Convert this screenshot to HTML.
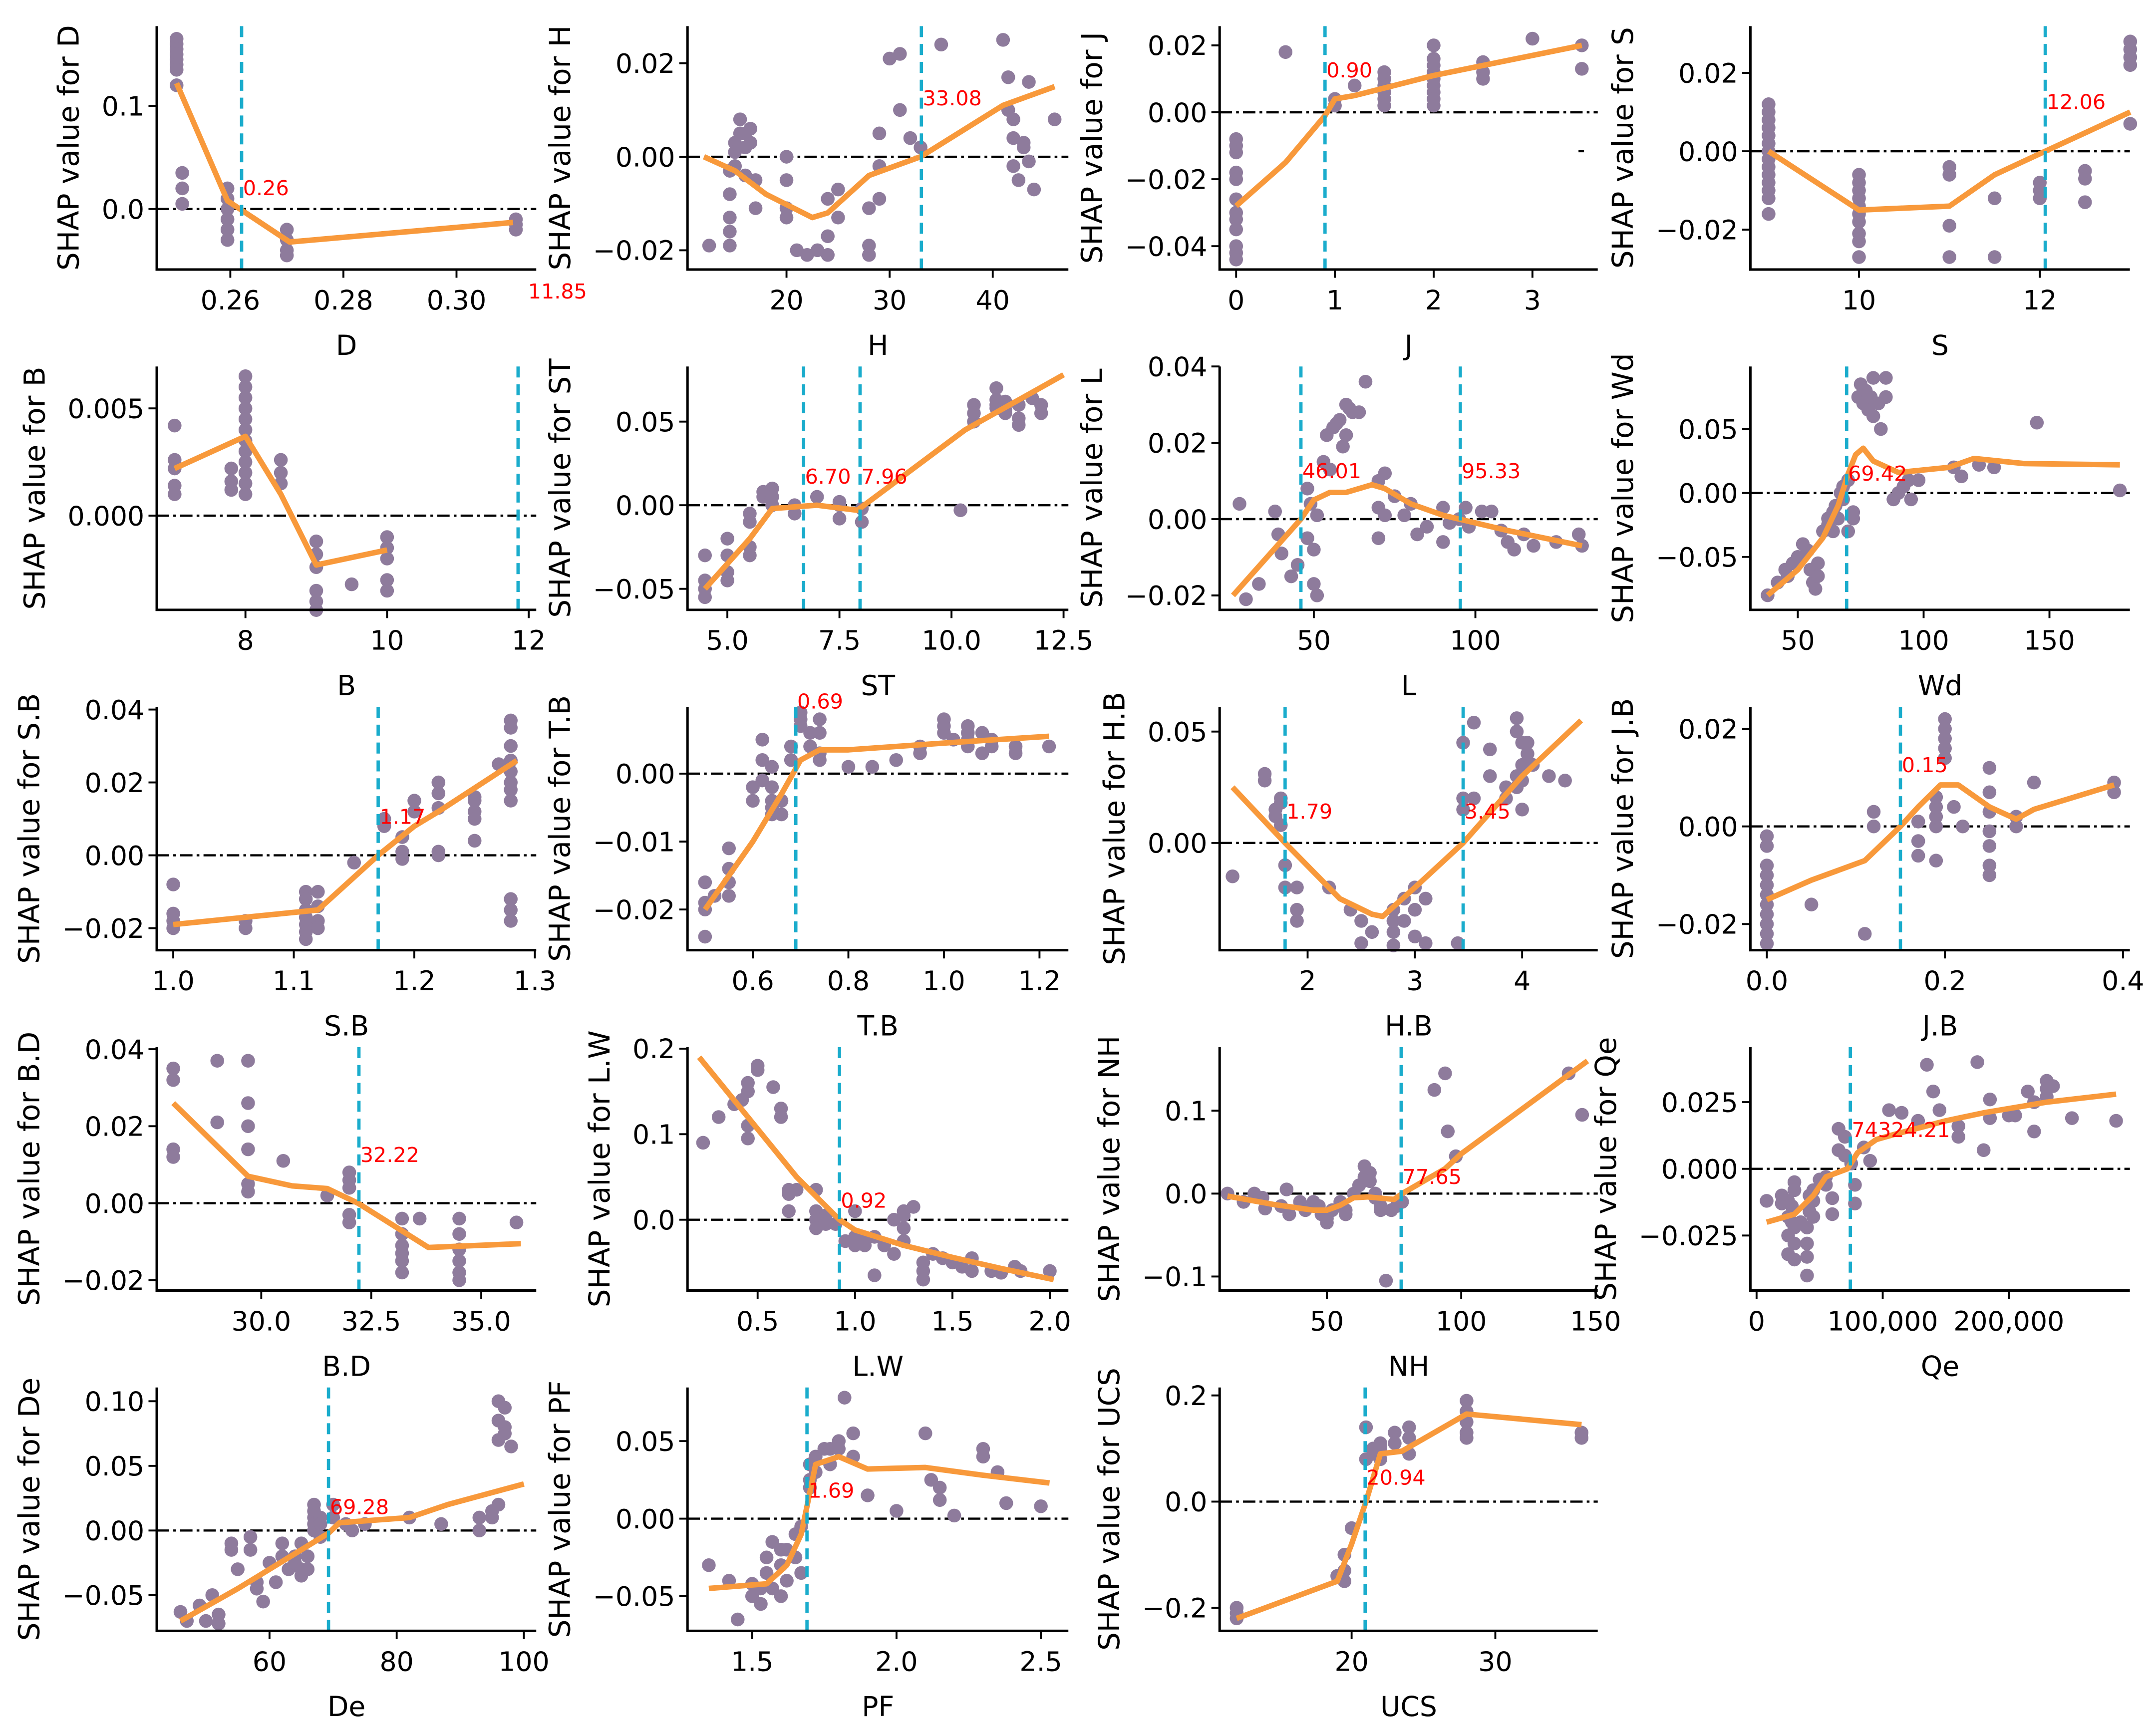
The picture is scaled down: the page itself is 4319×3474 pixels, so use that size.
<!DOCTYPE html>
<html><head><meta charset="utf-8"><style>
html,body{margin:0;padding:0;background:#fff;}
svg{display:block;}
text{font-family:"DejaVu Sans","Liberation Sans",sans-serif;}
</style></head><body>
<svg id="chart" xmlns="http://www.w3.org/2000/svg" width="4319" height="3474" viewBox="0 0 1568 1261" preserveAspectRatio="none"></svg>
<script>
// ===== data arrays (x values, SHAP values, trend lines) =====
const D_x=[0.2505,0.2505,0.2505,0.2505,0.2505,0.2505,0.2505,0.2505,0.2515,0.2515,0.2515,0.2595,0.2595,0.2595,0.2595,0.2595,0.2595,0.27,0.27,0.27,0.27,0.3105,0.3105,0.3105];
const D_y=[0.165,0.16,0.155,0.15,0.145,0.14,0.135,0.12,0.035,0.02,0.005,0.02,0.01,0.0,-0.01,-0.02,-0.03,-0.02,-0.03,-0.04,-0.045,-0.01,-0.015,-0.02];
const D_lx=[0.2505,0.2595,0.2705,0.31];
const D_ly=[0.122,0.008,-0.032,-0.013];

const H_x=[12.5,14.5,14.5,14.5,14.5,14.5,15,15,15,15.5,15.5,16,16,16,16.5,16.5,17,17,20,20,20,20,21,22,23,24,24,24,25,25,28,28,28,29,29,29,30,31,31,32,33,35,41,41.5,41.5,42,42,43,43,42,42.5,43.5,43.5,44,46];
const H_y=[-0.019,-0.003,-0.008,-0.013,-0.016,-0.019,0.003,0.001,-0.002,0.005,0.008,0.005,0.002,-0.004,0.006,0.003,-0.005,-0.011,0,-0.005,-0.011,-0.013,-0.02,-0.021,-0.02,-0.021,-0.017,-0.009,-0.007,-0.013,-0.019,-0.021,-0.011,-0.009,0.005,-0.002,0.021,0.022,0.01,0.004,0.002,0.024,0.025,0.017,0.01,0.008,0.004,0.003,0.002,-0.002,-0.005,0.016,-0.001,-0.007,0.008];
const H_lx=[12,15,18,22.5,24,28,33,41,46];
const H_ly=[0,-0.003,-0.008,-0.013,-0.012,-0.004,0,0.011,0.015];

const J_x=[0,0,0,0,0,0,0,0,0,0,0,0,0.5,1,1,1.2,1.5,1.5,1.5,1.5,1.5,1.5,2,2,2,2,2,2,2,2,2,2.5,2.5,2.5,3,3.5,3.5];
const J_y=[-0.008,-0.01,-0.012,-0.018,-0.02,-0.026,-0.03,-0.032,-0.035,-0.04,-0.042,-0.044,0.018,0.004,0.002,0.008,0.012,0.01,0.008,0.006,0.004,0.002,0.02,0.016,0.014,0.012,0.01,0.008,0.006,0.004,0.002,0.015,0.012,0.01,0.022,0.02,0.013];
const J_lx=[0,0.5,0.9,1,1.2,2,2.5,3.5];
const J_ly=[-0.028,-0.015,-0.001,0.004,0.005,0.011,0.014,0.02];

const S_x=[9,9,9,9,9,9,9,9,9,9,9,9,9,9,10,10,10,10,10,10,10,10,10,10,11,11,11,11,11.5,11.5,12,12,12,12.5,12.5,12.5,13,13,13,13,13];
const S_y=[0.012,0.01,0.008,0.006,0.004,0.002,0,-0.002,-0.004,-0.006,-0.008,-0.01,-0.012,-0.016,-0.006,-0.008,-0.01,-0.012,-0.014,-0.016,-0.018,-0.021,-0.023,-0.027,-0.004,-0.006,-0.019,-0.027,-0.012,-0.027,-0.008,-0.01,-0.012,-0.005,-0.007,-0.013,0.028,0.026,0.024,0.022,0.007];
const S_lx=[9,10,11,11.5,12.06,13];
const S_ly=[0,-0.015,-0.014,-0.006,0,0.01];

const B_x=[7,7,7,7,7,7.8,7.8,7.8,8,8,8,8,8,8,8,8,8,8,8,8,8.5,8.5,8.5,9,9,9,9,9,9,9.5,10,10,10,10,10];
const B_y=[0.0042,0.0026,0.0022,0.0014,0.001,0.0022,0.0016,0.0012,0.0065,0.006,0.0055,0.005,0.0045,0.004,0.0035,0.003,0.0025,0.002,0.0015,0.001,0.0026,0.002,0.0015,-0.0012,-0.0018,-0.0024,-0.0035,-0.004,-0.0044,-0.0032,-0.001,-0.0015,-0.002,-0.003,-0.0035];
const B_lx=[7,8,8.5,9,10];
const B_ly=[0.0022,0.0037,0.001,-0.0023,-0.0016];

const ST_x=[4.5,4.5,4.5,4.5,5,5,5,5,5.5,5.5,5.5,5.5,5.8,5.8,6,6,6,6.5,6.5,7,7.5,7.5,7.5,8,8,10.2,10.5,10.5,10.5,11,11,11,11,11.2,11.2,11.2,11.5,11.5,11.5,12,12,11.8];
const ST_y=[-0.03,-0.045,-0.05,-0.055,-0.02,-0.03,-0.04,-0.045,-0.005,-0.01,-0.025,-0.03,0.005,0.008,0.01,0.005,0,-0.005,0,0.005,0.002,-0.008,0,-0.002,-0.01,-0.003,0.06,0.055,0.05,0.07,0.063,0.058,0.06,0.062,0.057,0.055,0.06,0.052,0.048,0.055,0.06,0.064];
const ST_lx=[4.5,5.5,6,7,7.9,10.3,12.5];
const ST_ly=[-0.05,-0.02,-0.002,0,-0.003,0.045,0.078];

const L_x=[27,29,33,38,39,40,43,45,48,48,49,50,50,51,51,53,54,55,56,57,58,59,60,60,61,62,64,66,70,70,70,72,72,75,78,80,82,85,90,90,92,95,97,98,102,105,108,110,112,115,118,125,132,133];
const L_y=[0.004,-0.021,-0.017,0.002,-0.004,-0.009,-0.015,-0.012,-0.005,0.008,0.004,-0.008,-0.017,-0.02,0.001,0.015,0.022,0.013,0.024,0.025,0.026,0.019,0.022,0.03,0.029,0.028,0.028,0.036,0.01,0.003,-0.005,0.001,0.012,0.006,0.001,0.004,-0.004,-0.002,0.003,-0.006,-0.001,0,0.003,-0.002,0.002,0.002,-0.003,-0.006,-0.008,-0.004,-0.007,-0.006,-0.004,-0.007];
const L_lx=[25,46,50,55,60,68,72,80,90,100,110,133];
const L_ly=[-0.02,0,0.005,0.007,0.007,0.009,0.008,0.004,0.001,-0.001,-0.003,-0.007];

const Wd_x=[38,42,45,46,48,50,52,54,55,56,57,58,58,60,62,62,64,64,65,66,67,68,68,70,70,72,72,74,75,76,77,78,79,80,80,82,83,85,85,88,90,92,94,95,98,112,115,122,128,145,178];
const Wd_y=[-0.08,-0.07,-0.06,-0.065,-0.055,-0.05,-0.04,-0.045,-0.06,-0.07,-0.075,-0.065,-0.055,-0.03,-0.02,-0.025,-0.015,-0.03,-0.01,-0.02,0,-0.005,0.005,0.01,-0.03,-0.015,-0.02,0.075,0.085,0.07,0.08,0.065,0.075,0.06,0.09,0.07,0.05,0.09,0.075,-0.005,0,0.005,0.01,-0.005,0.01,0.02,0.013,0.022,0.02,0.055,0.002];
const Wd_lx=[38,50,60,66,70,73,76,80,90,100,110,120,140,178];
const Wd_ly=[-0.08,-0.06,-0.035,-0.01,0.015,0.03,0.035,0.025,0.016,0.018,0.02,0.027,0.023,0.022];

const SB_x=[1,1,1,1,1.06,1.06,1.11,1.11,1.11,1.11,1.11,1.11,1.11,1.12,1.12,1.12,1.12,1.15,1.175,1.175,1.19,1.19,1.19,1.2,1.2,1.22,1.22,1.22,1.22,1.22,1.25,1.25,1.25,1.25,1.25,1.27,1.28,1.28,1.28,1.28,1.28,1.28,1.28,1.28,1.28,1.28,1.28];
const SB_y=[-0.008,-0.016,-0.018,-0.02,-0.018,-0.02,-0.01,-0.012,-0.015,-0.017,-0.019,-0.021,-0.023,-0.01,-0.014,-0.018,-0.02,-0.002,0.01,0.008,0.005,0.001,-0.001,0.015,0.012,0.02,0.017,0.013,0.001,0,0.016,0.015,0.012,0.01,0.004,0.025,0.037,0.035,0.03,0.026,0.023,0.02,0.018,0.015,-0.012,-0.015,-0.018];
const SB_lx=[1,1.06,1.12,1.17,1.2,1.22,1.285];
const SB_ly=[-0.019,-0.017,-0.015,0,0.008,0.012,0.026];

const TB_x=[0.5,0.5,0.5,0.5,0.52,0.55,0.55,0.55,0.55,0.6,0.6,0.62,0.62,0.62,0.64,0.64,0.64,0.64,0.64,0.66,0.66,0.68,0.68,0.7,0.7,0.7,0.72,0.72,0.74,0.74,0.74,0.74,0.8,0.85,0.9,0.95,0.95,1,1,1,1.02,1.05,1.05,1.05,1.05,1.08,1.08,1.1,1.1,1.15,1.15,1.22];
const TB_y=[-0.016,-0.019,-0.02,-0.024,-0.018,-0.011,-0.014,-0.016,-0.018,-0.002,-0.004,0.002,0.005,-0.001,0.001,-0.002,-0.004,-0.005,-0.006,-0.004,-0.006,0.002,0.004,0.007,0.009,0.008,0.004,0.006,0.006,0.003,0.002,0.008,0.001,0.001,0.002,0.004,0.003,0.008,0.007,0.006,0.005,0.007,0.004,0.006,0.005,0.006,0.003,0.005,0.004,0.004,0.003,0.004];
const TB_lx=[0.5,0.6,0.66,0.7,0.74,0.8,0.9,1,1.22];
const TB_ly=[-0.02,-0.01,-0.003,0.002,0.0035,0.0035,0.004,0.0045,0.0055];

const HB_x=[1.3,1.6,1.6,1.7,1.7,1.75,1.75,1.75,1.79,1.79,1.9,1.9,1.9,2.2,2.4,2.5,2.5,2.6,2.8,2.8,2.8,2.8,2.9,2.9,3,3,3,3.1,3.1,3.4,3.45,3.45,3.45,3.55,3.55,3.7,3.7,3.85,3.85,3.95,3.95,3.95,3.95,4,4,4,4,4.05,4.05,4.1,4.25,4.4];
const HB_y=[-0.015,0.028,0.031,0.012,0.015,0.008,0.018,0.02,-0.01,-0.02,-0.02,-0.03,-0.035,-0.02,-0.03,-0.035,-0.045,-0.04,-0.04,-0.046,-0.03,-0.035,-0.025,-0.035,-0.02,-0.03,-0.042,-0.025,-0.045,-0.045,0.045,0.02,0.015,0.054,0.02,0.042,0.03,0.02,0.025,0.056,0.05,0.03,0.025,0.045,0.035,0.028,0.015,0.04,0.045,0.035,0.03,0.028];
const HB_lx=[1.3,1.79,2.3,2.6,2.7,3,3.45,4,4.55];
const HB_ly=[0.025,0,-0.025,-0.032,-0.033,-0.02,0,0.03,0.055];

const JB_x=[0,0,0,0,0,0,0,0,0,0,0,0.05,0.11,0.12,0.12,0.17,0.17,0.17,0.19,0.19,0.19,0.19,0.19,0.2,0.2,0.2,0.2,0.2,0.21,0.22,0.25,0.25,0.25,0.25,0.25,0.25,0.25,0.28,0.28,0.3,0.39,0.39];
const JB_y=[-0.002,-0.004,-0.008,-0.01,-0.012,-0.014,-0.016,-0.018,-0.02,-0.022,-0.024,-0.016,-0.022,0,0.003,-0.003,-0.006,0.001,0,0.002,0.004,0.006,-0.007,0.022,0.02,0.018,0.016,0.014,0.004,0,0.012,0.007,0.003,-0.001,-0.004,-0.008,-0.01,0.002,0,0.009,0.009,0.007];
const JB_lx=[0,0.05,0.11,0.15,0.17,0.195,0.215,0.25,0.28,0.3,0.39];
const JB_ly=[-0.015,-0.011,-0.007,0,0.004,0.0085,0.0085,0.004,0.0015,0.0035,0.0085];

const BD_x=[28,28,28,28,29,29,29.7,29.7,29.7,29.7,29.7,29.7,30.5,31.5,32,32,32,32,32,33.2,33.2,33.2,33.2,33.2,33.2,33.6,34.5,34.5,34.5,34.5,34.5,34.5,35.8];
const BD_y=[0.035,0.032,0.014,0.012,0.037,0.021,0.037,0.026,0.02,0.014,0.005,0.003,0.011,0.002,0.006,0.008,0.004,-0.003,-0.005,-0.004,-0.008,-0.011,-0.013,-0.015,-0.018,-0.004,-0.004,-0.008,-0.012,-0.015,-0.018,-0.02,-0.005];
const BD_lx=[28,29.7,30.7,31.5,32.2,33.8,35.9];
const BD_ly=[0.026,0.007,0.0045,0.0038,0,-0.0115,-0.0105];

const LW_x=[0.22,0.3,0.38,0.42,0.45,0.45,0.45,0.45,0.5,0.5,0.58,0.62,0.62,0.66,0.66,0.66,0.7,0.8,0.8,0.8,0.8,0.85,0.85,0.9,0.95,1,1,1,1.05,1.05,1.1,1.1,1.15,1.2,1.2,1.25,1.25,1.25,1.25,1.3,1.35,1.35,1.35,1.4,1.45,1.5,1.55,1.6,1.6,1.7,1.75,1.82,1.85,2];
const LW_y=[0.09,0.12,0.135,0.14,0.15,0.16,0.11,0.095,0.175,0.18,0.155,0.13,0.12,0.01,0.03,0.035,0.035,0.035,0.01,0,-0.01,0.005,-0.005,-0.005,-0.025,0.01,-0.02,-0.03,-0.025,-0.03,-0.065,-0.02,-0.03,0,-0.04,0.005,0.01,-0.01,-0.025,0.015,-0.05,-0.06,-0.07,-0.04,-0.045,-0.05,-0.055,-0.045,-0.06,-0.06,-0.062,-0.055,-0.06,-0.06];
const LW_lx=[0.2,0.45,0.7,0.92,1,1.25,1.5,1.75,2.02];
const LW_ly=[0.19,0.12,0.05,0,-0.012,-0.03,-0.044,-0.057,-0.07];

const NH_x=[13,19,23,26,27,33,35,36,40,42,45,47,48,50,50,52,55,57,57,60,62,64,64,66,66,68,68,70,70,72,74,76,78,90,94,95,98,140,145];
const NH_y=[0,-0.01,0,-0.005,-0.018,-0.015,0.005,-0.025,-0.01,-0.02,-0.01,-0.015,-0.025,-0.035,-0.03,-0.02,-0.01,-0.02,-0.025,0,0.01,0.033,0.02,0.025,0.015,0,-0.005,-0.015,-0.02,-0.105,-0.02,-0.015,-0.01,0.125,0.145,0.075,0.045,0.145,0.095];
const NH_lx=[13,30,45,50,55,60,65,75,78,94,100,147];
const NH_ly=[-0.003,-0.013,-0.02,-0.02,-0.014,-0.005,-0.004,-0.007,0,0.03,0.048,0.16];

const Qe_x=[8000,20000,20000,25000,25000,25000,25000,28000,28000,30000,30000,30000,30000,30000,35000,40000,40000,40000,40000,42000,42000,45000,45000,45000,50000,55000,55000,60000,60000,65000,65000,70000,70000,75000,78000,78000,85000,90000,105000,115000,128000,135000,140000,145000,160000,160000,175000,180000,185000,185000,200000,205000,215000,220000,220000,230000,230000,230000,235000,250000,285000];
const Qe_y=[-0.012,-0.01,-0.013,-0.012,-0.018,-0.025,-0.032,-0.014,-0.02,-0.005,-0.008,-0.022,-0.028,-0.034,-0.02,-0.022,-0.028,-0.033,-0.04,-0.01,-0.016,-0.008,-0.012,-0.018,-0.004,-0.003,-0.006,-0.011,-0.017,0.015,0.007,0.012,0.005,0.002,-0.006,-0.013,0.008,0.003,0.022,0.021,0.018,0.039,0.029,0.022,0.016,0.012,0.04,0.007,0.026,0.019,0.02,0.02,0.029,0.025,0.014,0.033,0.03,0.027,0.031,0.019,0.018];
const Qe_lx=[8000,30000,45000,55000,72000,80000,95000,110000,150000,180000,230000,285000];
const Qe_ly=[-0.02,-0.017,-0.01,-0.003,0,0.006,0.011,0.013,0.018,0.021,0.025,0.028];

const De_x=[46,47,49,50,51,52,52,54,54,55,57,57,58,58,59,60,61,62,62,63,64,64,65,65,65,66,66,67,67,67,67,67,68,68,68,70,70,72,73,75,82,87,93,93,95,95,96,96,96,96,97,97,97,98];
const De_y=[-0.063,-0.07,-0.058,-0.07,-0.05,-0.065,-0.072,-0.01,-0.015,-0.03,-0.005,-0.015,-0.04,-0.045,-0.055,-0.025,-0.04,-0.02,-0.01,-0.03,-0.02,-0.025,-0.035,-0.03,-0.01,-0.02,-0.03,0.02,0,0.005,0.01,0.015,0.01,0.005,-0.005,0.02,0.01,0.005,0,0.005,0.01,0.005,0.01,0,0.015,0.01,0.02,0.1,0.085,0.07,0.095,0.08,0.075,0.065];
const De_lx=[46,55,60,69.3,71,82,88,100];
const De_ly=[-0.07,-0.045,-0.03,-0.002,0.006,0.01,0.02,0.036];

const PF_x=[1.35,1.42,1.45,1.5,1.5,1.53,1.53,1.55,1.55,1.57,1.57,1.6,1.6,1.6,1.62,1.62,1.65,1.65,1.67,1.67,1.7,1.7,1.7,1.72,1.72,1.75,1.77,1.77,1.8,1.8,1.82,1.85,1.85,1.9,2,2.1,2.12,2.15,2.15,2.3,2.3,2.35,2.38,2.5,2.2];
const PF_y=[-0.03,-0.04,-0.065,-0.05,-0.042,-0.055,-0.045,-0.035,-0.025,-0.045,-0.015,-0.02,-0.03,-0.05,-0.02,-0.04,-0.01,-0.025,-0.005,-0.035,0.02,0.025,0.035,0.04,0.03,0.045,0.035,0.045,0.05,0.045,0.078,0.055,0.04,0.015,0.005,0.055,0.025,0.012,0.02,0.045,0.04,0.03,0.01,0.008,0.002];
const PF_lx=[1.35,1.55,1.62,1.67,1.72,1.8,1.9,2.1,2.3,2.53];
const PF_ly=[-0.045,-0.042,-0.03,-0.01,0.035,0.04,0.032,0.033,0.028,0.023];

const UCS_x=[12,12,12,19,19.5,19.5,19.5,20,21,21,21.5,21.5,22,22,22,23,23,24,24,24,28,28,28,28,28,36,36];
const UCS_y=[-0.22,-0.2,-0.21,-0.14,-0.1,-0.13,-0.15,-0.05,0.14,0.08,0.1,0.09,0.1,0.11,0.08,0.13,0.11,0.14,0.12,0.09,0.19,0.17,0.15,0.13,0.12,0.13,0.12];
const UCS_lx=[12,19,20,21,22,23.5,28,36];
const UCS_ly=[-0.22,-0.15,-0.08,0,0.09,0.095,0.165,0.145];

// thresholds (vertical lines)
const D_vl=[0.262], H_vl=[33.08], J_vl=[0.9], S_vl=[12.06], B_vl=[11.85], ST_vl=[6.70,7.96], L_vl=[46.01,95.33], Wd_vl=[69.42];
const SB_vl=[1.17], TB_vl=[0.69], HB_vl=[1.79,3.45], JB_vl=[0.15], BD_vl=[32.22], LW_vl=[0.92], NH_vl=[77.65], Qe_vl=[74324.21];
const De_vl=[69.28], PF_vl=[1.69], UCS_vl=[20.94];

// ===== layout =====
const M="\u2212";
const colL=[114,500,887,1273], colR=[390,777,1162,1549];
const rowT=r=>19+247.5*r, rowB=r=>196+247.5*r;

const panels=[
 {n:"D",r:0,c:0,xs:[0.26,167.5,0.30,332],ys:[0.1,77,0,152],xt:[0.26,0.28,0.30],xl:["0.26","0.28","0.30"],yt:[0.1,0],yl:["0.1","0.0"],x:D_x,y:D_y,lx:D_lx,ly:D_ly,vl:D_vl,lab:[["0.26",0.262,0.02]]},
 {n:"H",r:0,c:1,xs:[20,572,40,722],ys:[0.02,46,0,114],xt:[20,30,40],xl:["20","30","40"],yt:[0.02,0,-0.02],yl:["0.02","0.00",M+"0.02"],x:H_x,y:H_y,lx:H_lx,ly:H_ly,vl:H_vl,lab:[["33.08",33.08,0.0125]]},
 {n:"J",r:0,c:2,xs:[0,899,3,1114.5],ys:[0.02,33,-0.04,179],xt:[0,1,2,3],xl:["0","1","2","3"],yt:[0.02,0,-0.02,-0.04],yl:["0.02","0.00",M+"0.02",M+"0.04"],x:J_x,y:J_y,lx:J_lx,ly:J_ly,vl:J_vl,lab:[["0.90",0.9,0.0125]]},
 {n:"S",r:0,c:3,xs:[10,1352,12,1483.5],ys:[0.02,53,-0.02,167],xt:[10,12],xl:["10","12"],yt:[0.02,0,-0.02],yl:["0.02","0.00",M+"0.02"],x:S_x,y:S_y,lx:S_lx,ly:S_ly,vl:S_vl,lab:[["12.06",12.06,0.0125]]},
 {n:"B",r:1,c:0,xs:[8,178.5,10,281.5],ys:[0.005,297,0,375],xt:[8,10,12],xl:["8","10","12"],yt:[0.005,0],yl:["0.005","0.000"],x:B_x,y:B_y,lx:B_lx,ly:B_ly,vl:B_vl,lab:[]},
 {n:"ST",r:1,c:1,xs:[5,529,10,692],ys:[0.05,306.6,0,367.4],xt:[5,7.5,10,12.5],xl:["5.0","7.5","10.0","12.5"],yt:[0.05,0,-0.05],yl:["0.05","0.00",M+"0.05"],x:ST_x,y:ST_y,lx:ST_lx,ly:ST_ly,vl:ST_vl,lab:[["6.70",6.70,0.017],["7.96",7.96,0.017]]},
 {n:"L",r:1,c:2,xs:[50,955.5,100,1073],ys:[0.02,322,0,377.5],xt:[50,100],xl:["50","100"],yt:[0.04,0.02,0,-0.02],yl:["0.04","0.02","0.00",M+"0.02"],x:L_x,y:L_y,lx:L_lx,ly:L_ly,vl:L_vl,lab:[["46.01",46.01,0.0125],["95.33",95.33,0.0125]]},
 {n:"Wd",r:1,c:3,xs:[50,1307.5,150,1490.5],ys:[0.05,312,0,358.5],xt:[50,100,150],xl:["50","100","150"],yt:[0.05,0,-0.05],yl:["0.05","0.00",M+"0.05"],x:Wd_x,y:Wd_y,lx:Wd_lx,ly:Wd_ly,vl:Wd_vl,lab:[["69.42",69.42,0.015]]},
 {n:"S.B",r:2,c:0,xs:[1.0,126,1.3,389],ys:[0.02,569,0,622],xt:[1.0,1.1,1.2,1.3],xl:["1.0","1.1","1.2","1.3"],yt:[0.04,0.02,0,-0.02],yl:["0.04","0.02","0.00",M+"0.02"],x:SB_x,y:SB_y,lx:SB_lx,ly:SB_ly,vl:SB_vl,lab:[["1.17",1.17,0.0105]]},
 {n:"T.B",r:2,c:1,xs:[0.6,547.5,1.2,756],ys:[0,562.6,-0.01,612],xt:[0.6,0.8,1.0,1.2],xl:["0.6","0.8","1.0","1.2"],yt:[0,-0.01,-0.02],yl:["0.00",M+"0.01",M+"0.02"],x:TB_x,y:TB_y,lx:TB_lx,ly:TB_ly,vl:TB_vl,lab:[["0.69",0.69,0.0106]]},
 {n:"H.B",r:2,c:2,xs:[2,951,4,1107],ys:[0.05,532,0,613],xt:[2,3,4],xl:["2","3","4"],yt:[0.05,0],yl:["0.05","0.00"],x:HB_x,y:HB_y,lx:HB_lx,ly:HB_ly,vl:HB_vl,lab:[["1.79",1.79,0.014],["3.45",3.45,0.014]]},
 {n:"J.B",r:2,c:3,xs:[0,1285,0.4,1544],ys:[0.02,530,0,601],xt:[0,0.2,0.4],xl:["0.0","0.2","0.4"],yt:[0.02,0,-0.02],yl:["0.02","0.00",M+"0.02"],x:JB_x,y:JB_y,lx:JB_lx,ly:JB_ly,vl:JB_vl,lab:[["0.15",0.15,0.0125]]},
 {n:"B.D",r:3,c:0,xs:[30,190,35,350],ys:[0.02,819,0,875],xt:[30,32.5,35],xl:["30.0","32.5","35.0"],yt:[0.04,0.02,0,-0.02],yl:["0.04","0.02","0.00",M+"0.02"],x:BD_x,y:BD_y,lx:BD_lx,ly:BD_ly,vl:BD_vl,lab:[["32.22",32.22,0.0125]]},
 {n:"L.W",r:3,c:1,xs:[0.5,551,2.0,763.5],ys:[0.2,762.6,0,887],xt:[0.5,1.0,1.5,2.0],xl:["0.5","1.0","1.5","2.0"],yt:[0.2,0.1,0],yl:["0.2","0.1","0.0"],x:LW_x,y:LW_y,lx:LW_lx,ly:LW_ly,vl:LW_vl,lab:[["0.92",0.92,0.022]]},
 {n:"NH",r:3,c:2,xs:[50,965,100,1062.7],ys:[0.1,807.7,0,868],xt:[50,100,150],xl:["50","100","150"],yt:[0.1,0,-0.1],yl:["0.1","0.0",M+"0.1"],x:NH_x,y:NH_y,lx:NH_lx,ly:NH_ly,vl:NH_vl,lab:[["77.65",77.65,0.02]]},
 {n:"Qe",r:3,c:3,xs:[0,1277.5,200000,1461],ys:[0.025,801.5,0,850],xt:[0,100000,200000],xl:["0","100,000","200,000"],yt:[0.025,0,-0.025],yl:["0.025","0.000",M+"0.025"],x:Qe_x,y:Qe_y,lx:Qe_lx,ly:Qe_ly,vl:Qe_vl,lab:[["74324.21",74324.21,0.0145]]},
 {n:"De",r:4,c:0,xs:[60,196,100,381],ys:[0.05,1066,0,1113],xt:[60,80,100],xl:["60","80","100"],yt:[0.1,0.05,0,-0.05],yl:["0.10","0.05","0.00",M+"0.05"],x:De_x,y:De_y,lx:De_lx,ly:De_ly,vl:De_vl,lab:[["69.28",69.28,0.018]]},
 {n:"PF",r:4,c:1,xs:[1.5,547,2.5,757],ys:[0.05,1048,0,1104.4],xt:[1.5,2.0,2.5],xl:["1.5","2.0","2.5"],yt:[0.05,0,-0.05],yl:["0.05","0.00",M+"0.05"],x:PF_x,y:PF_y,lx:PF_lx,ly:PF_ly,vl:PF_vl,lab:[["1.69",1.69,0.018]]},
 {n:"UCS",r:4,c:2,xs:[20,983,30,1087.5],ys:[0.2,1014.8,0,1092],xt:[20,30],xl:["20","30"],yt:[0.2,0,-0.2],yl:["0.2","0.0",M+"0.2"],x:UCS_x,y:UCS_y,lx:UCS_lx,ly:UCS_ly,vl:UCS_vl,lab:[["20.94",20.94,0.045]]}
];

const svg=document.getElementById('chart');
const NS="http://www.w3.org/2000/svg";
function mk(tag,attrs,parent,txt){const e=document.createElementNS(NS,tag);for(const k in attrs)e.setAttribute(k,attrs[k]);if(txt!==undefined)e.textContent=txt;parent.appendChild(e);return e;}
function lin(c){const k=(c[3]-c[1])/(c[2]-c[0]);return v=>c[1]+(v-c[0])*k;}
const slug=s=>s.toLowerCase().replace(/\./g,'');
const FS=19.5;
function estW(s){let w=0;for(const ch of s){w+= ch==='.'||ch===',' ? 0.318 : (ch===M?0.838:0.636);}return w*FS;}

panels.forEach(p=>{
  const L=colL[p.c],R=colR[p.c],T=rowT(p.r),B=rowB(p.r);
  const sx=lin(p.xs), sy=lin(p.ys), id=slug(p.n);
  const g=mk('g',{},svg);
  
  
  const z=mk('line',{x1:L,x2:R,y1:sy(0),y2:sy(0),stroke:'#000','stroke-width':1.6,'stroke-dasharray':'9,3,2,3'},g);
  
  
  const pg=mk('g',{fill:'#8e7b9c'},g);
  
  
  p.x.forEach((xv,i)=>{
    const c=mk('circle',{cx:sx(xv),cy:sy(p.y[i]),r:5},pg);
    
    
  });
  const pl=mk('polyline',{points:p.lx.map((v,i)=>sx(v)+','+sy(p.ly[i])).join(' '),fill:'none',stroke:'#f8993b','stroke-width':4,'stroke-linejoin':'round','stroke-linecap':'butt'},g);
  
  
  p.vl.forEach(v=>{
    const l=mk('line',{x1:sx(v),x2:sx(v),y1:T,y2:B,stroke:'#1aaccc','stroke-width':2.4,'stroke-dasharray':'8,5'},g);
    
    
  });
  p.lab.forEach(a=>{
    const t=mk('text',{x:sx(a[1])+1,y:sy(a[2])+5,fill:'#ff0000','font-size':15},g,a[0]);
    
    
  });
  const sp=mk('path',{d:`M${L},${T}V${B}H${R}`,fill:'none',stroke:'#000','stroke-width':1.8},g);
  
  
  p.xt.forEach((v,i)=>{
    const X=sx(v);
    mk('line',{x1:X,x2:X,y1:B,y2:B+6,stroke:'#000','stroke-width':1.4},g);
    const t=mk('text',{x:X,y:B+29,'text-anchor':'middle','font-size':FS},g,p.xl[i]);
    
    
  });
  let maxW=0;
  p.yt.forEach((v,i)=>{
    const Y=sy(v);
    mk('line',{x1:L-6,x2:L,y1:Y,y2:Y,stroke:'#000','stroke-width':1.4},g);
    const t=mk('text',{x:L-9,y:Y+7,'text-anchor':'end','font-size':FS},g,p.yl[i]);
    
    
    maxW=Math.max(maxW,estW(p.yl[i]));
  });
  const xl=mk('text',{x:(L+R)/2,y:B+62,'text-anchor':'middle','font-size':20},g,p.n);
  
  
  const cy=(T+B)/2, cx=Math.max(14, L-9-maxW-24);
  const yl=mk('text',{x:cx,y:cy,'text-anchor':'middle','font-size':21,transform:`rotate(-90 ${cx} ${cy})`,'dominant-baseline':'central'},g,'SHAP value for '+p.n);
  
  
});
const s1=mk('text',{x:384,y:217,fill:'#ff0000','font-size':15},svg,'11.85');


const s2=mk('line',{x1:1148,x2:1152,y1:110,y2:110,stroke:'#000','stroke-width':1.5},svg);


</script>
</body></html>
